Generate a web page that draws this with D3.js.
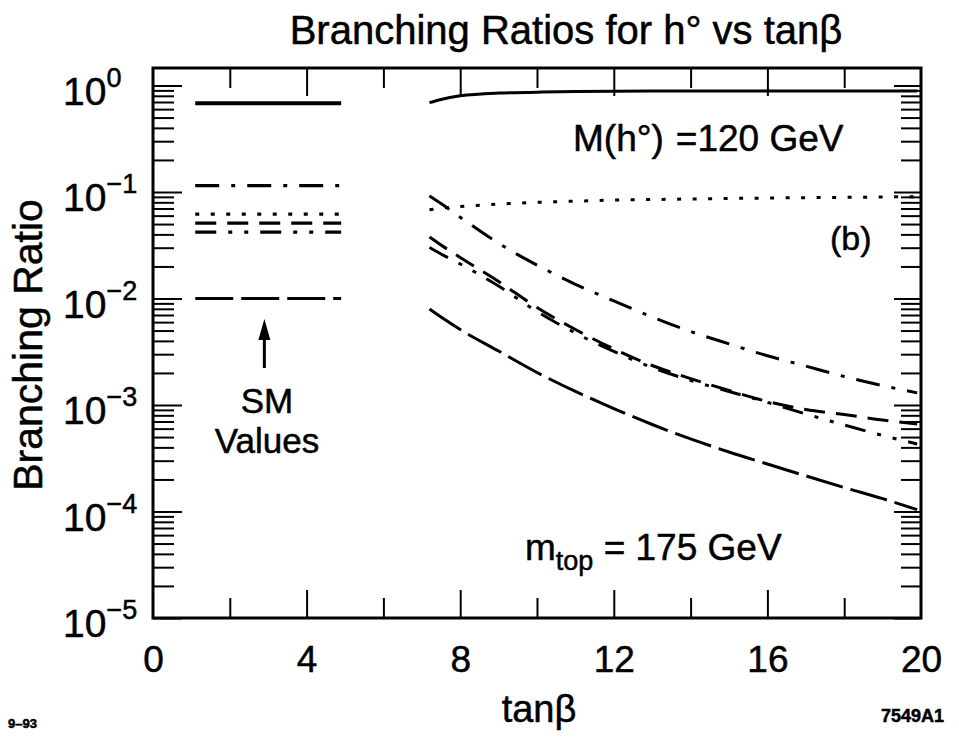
<!DOCTYPE html>
<html>
<head>
<meta charset="utf-8">
<script src="https://cdn.jsdelivr.net/npm/d3@7"></script>
<style>
  html, body { margin: 0; padding: 0; background: #fff; }
  svg { display: block; }
  text { font-family: "Liberation Sans", Arial, Helvetica, sans-serif; fill: #000; stroke: #000; stroke-width: 0.5px; }
</style>
</head>
<body>
<svg id="chart" width="959" height="741"></svg>
<script>
// ---- data -------------------------------------------------------------
// tanβ grid on which the MSSM branching ratios are tabulated
const tanBeta = [7.2, 7.5, 8, 9, 10, 11, 12, 13, 14, 15, 16, 17, 18, 19, 19.9];

// MSSM branching ratios of h° (M = 120 GeV, m_top = 175 GeV)
const brSolid       = [0.69, 0.74, 0.80, 0.85, 0.865, 0.878, 0.885, 0.888, 0.89, 0.89, 0.89, 0.89, 0.89, 0.89, 0.89];
const brDotted      = [0.068, 0.0705, 0.073, 0.077, 0.080, 0.082, 0.084, 0.085, 0.086, 0.087, 0.0877, 0.0885, 0.089, 0.0898, 0.0905];
const brDashDot     = [0.092, 0.078, 0.058, 0.033, 0.0206, 0.0136, 0.0095, 0.0067, 0.0049, 0.00375, 0.0029, 0.00232, 0.00185, 0.00152, 0.0013];
const brDashed      = [0.0378, 0.0318, 0.0243, 0.01445, 0.00823, 0.00512, 0.00336, 0.00235, 0.00177, 0.00137, 0.00108, 0.000907, 0.000814, 0.000723, 0.000663];
const brDashDotDot  = [0.0301, 0.0262, 0.0211, 0.0131, 0.00755, 0.00474, 0.00318, 0.00225, 0.0017, 0.00134, 0.00106, 0.000823, 0.000649, 0.000518, 0.00043];
const brLongDash    = [0.00797, 0.0067, 0.00512, 0.00321, 0.00202, 0.00134, 0.000927, 0.000656, 0.00048, 0.000362, 0.000279, 0.000216, 0.000168, 0.000132, 0.000104];

// Standard Model values, drawn as short horizontal lines
const smRange = [1.1, 4.9];
const smSolid = 0.68, smDashDot = 0.115, smDotted = 0.062, smDashed = 0.051, smDashDotDot = 0.042, smLongDash = 0.0100;

// axis ticks
const xMajorTicks = [4, 8, 12, 16];
const xMinorTicks = [2, 6, 10, 14, 18];
const xTickLabels = [0, 4, 8, 12, 16, 20];
const yDecades = [0, -1, -2, -3, -4, -5];

// ---- drawing ----------------------------------------------------------
const W = 959, H = 741;
const L = 153, R = 921, T = 68, B = 618;
const svg = d3.select("#chart");

const x = d3.scaleLinear().domain([0, 20]).range([L, R]);
const y = d3.scaleLog().domain([1e-5, 1.46]).range([B, T]);

const yMinor = [];
for (let e = -5; e <= 0; e++) {
  for (let k = 2; k <= 9; k++) {
    const v = k * Math.pow(10, e);
    if (v <= 1.46) yMinor.push(v);
  }
}
const yMajor = yDecades.map(e => Math.pow(10, e));

// ticks pointing into the plot on all four sides
function tickAxis(axisFn, scale, values, len, transform) {
  const g = svg.append("g").attr("transform", transform)
    .call(axisFn(scale).tickValues(values).tickSize(-len).tickFormat(""));
  g.select(".domain").remove();
  g.selectAll(".tick line").attr("stroke", "#000").attr("stroke-width", 2);
  return g;
}
tickAxis(d3.axisBottom, x, xMajorTicks, 28, `translate(0,${B})`);
tickAxis(d3.axisBottom, x, xMinorTicks, 20, `translate(0,${B})`);
tickAxis(d3.axisTop, x, xMajorTicks, 28, `translate(0,${T})`);
tickAxis(d3.axisTop, x, xMinorTicks, 20, `translate(0,${T})`);
tickAxis(d3.axisLeft, y, yMajor, 29, `translate(${L},0)`);
tickAxis(d3.axisLeft, y, yMinor, 21, `translate(${L},0)`);
tickAxis(d3.axisRight, y, yMajor, 27, `translate(${R},0)`);
tickAxis(d3.axisRight, y, yMinor, 20, `translate(${R},0)`);

// frame
svg.append("rect")
  .attr("x", L).attr("y", T).attr("width", R - L).attr("height", B - T)
  .attr("fill", "none").attr("stroke", "#000").attr("stroke-width", 3);

// x tick labels
const xLab = svg.append("g").attr("transform", `translate(0,${B})`)
  .call(d3.axisBottom(x).tickValues(xTickLabels).tickSize(0).tickPadding(28).tickFormat(d3.format("d")));
xLab.select(".domain").remove();
xLab.selectAll("text").attr("font-size", 37)
  .style("font-family", '"Liberation Sans", Arial, Helvetica, sans-serif');

// y tick labels: 10 with exponent
const yLab = svg.append("g");
yDecades.forEach(e => {
  const t = yLab.append("text")
    .attr("x", 63).attr("y", y(Math.pow(10, e)) + 19)
    .attr("font-size", 39);
  t.append("tspan").text("10");
  t.append("tspan").attr("font-size", 27).attr("dy", -18)
    .text(e === 0 ? "0" : "\u2212" + Math.abs(e));
});

// line styles
const styles = {
  solid:      { dash: null,                 width: 3 },
  dotted:     { dash: "4,11.5",             width: 3 },
  dashDot:    { dash: "24,12,4,12",         width: 3 },
  dashed:     { dash: "21,11",              width: 3 },
  dashDotDot: { dash: "21,12,4,12,4,12",    width: 3 },
  longDash:   { dash: "38,8",               width: 3 }
};

const line = d3.line()
  .x(d => x(d[0]))
  .y(d => y(d[1]))
  .curve(d3.curveMonotoneX);

const mssm = [
  [brSolid, "solid"], [brDotted, "dotted"], [brDashDot, "dashDot"],
  [brDashed, "dashed"], [brDashDotDot, "dashDotDot"], [brLongDash, "longDash"]
];
mssm.forEach(([vals, st]) => {
  svg.append("path")
    .datum(tanBeta.map((t, i) => [t, vals[i]]))
    .attr("d", line)
    .attr("fill", "none").attr("stroke", "#000")
    .attr("stroke-width", styles[st].width)
    .attr("stroke-dasharray", styles[st].dash);
});

const sm = [
  [smSolid, "solid"], [smDashDot, "dashDot"], [smDotted, "dotted"],
  [smDashed, "dashed"], [smDashDotDot, "dashDotDot"], [smLongDash, "longDash"]
];
sm.forEach(([v, st]) => {
  svg.append("path")
    .datum(smRange.map(t => [t, v]))
    .attr("d", d3.line().x(d => x(d[0])).y(d => y(d[1])))
    .attr("fill", "none").attr("stroke", "#000")
    .attr("stroke-width", st === "solid" ? 4 : 3.2)
    .attr("stroke-dasharray", styles[st].dash);
});

// SM annotation with arrow
const ax = x(2.9);
svg.append("line")
  .attr("x1", ax).attr("x2", ax)
  .attr("y1", 368).attr("y2", 335)
  .attr("stroke", "#000").attr("stroke-width", 3);
svg.append("path")
  .attr("d", d3.line()([[ax, 319], [ax - 6, 340], [ax + 6, 340]]) + "Z")
  .attr("fill", "#000");
svg.append("text").attr("x", 267).attr("y", 413).attr("text-anchor", "middle")
  .attr("font-size", 35).text("SM");
svg.append("text").attr("x", 267).attr("y", 453).attr("text-anchor", "middle")
  .attr("font-size", 35).text("Values");

// in-plot labels
const mh = svg.append("text").attr("x", 573).attr("y", 151).attr("font-size", 37);
mh.append("tspan").text("M(h\u00B0)");
mh.append("tspan").attr("dx", 12).text("=120 GeV");

svg.append("text").attr("x", 830).attr("y", 250).attr("font-size", 34).text("(b)");

const mt = svg.append("text").attr("x", 525).attr("y", 560).attr("font-size", 37);
mt.append("tspan").text("m");
mt.append("tspan").attr("font-size", 27).attr("dy", 10).text("top");
mt.append("tspan").attr("dy", -10).text(" = 175 GeV");

// titles
svg.append("text").attr("x", 566).attr("y", 44).attr("text-anchor", "middle")
  .attr("font-size", 40).text("Branching Ratios for h\u00B0 vs tan\u03B2");
svg.append("text").attr("x", 539).attr("y", 722).attr("text-anchor", "middle")
  .attr("font-size", 38).text("tan\u03B2");
svg.append("text")
  .attr("transform", "translate(42,345) rotate(-90)")
  .attr("text-anchor", "middle").attr("font-size", 41).text("Branching Ratio");

// figure codes
svg.append("text").attr("x", 8).attr("y", 728).attr("font-size", 13)
  .attr("font-weight", "bold").text("9\u201393");
svg.append("text").attr("x", 944).attr("y", 722).attr("text-anchor", "end")
  .attr("font-size", 18).attr("font-weight", "bold").text("7549A1");
</script>
</body>
</html>
